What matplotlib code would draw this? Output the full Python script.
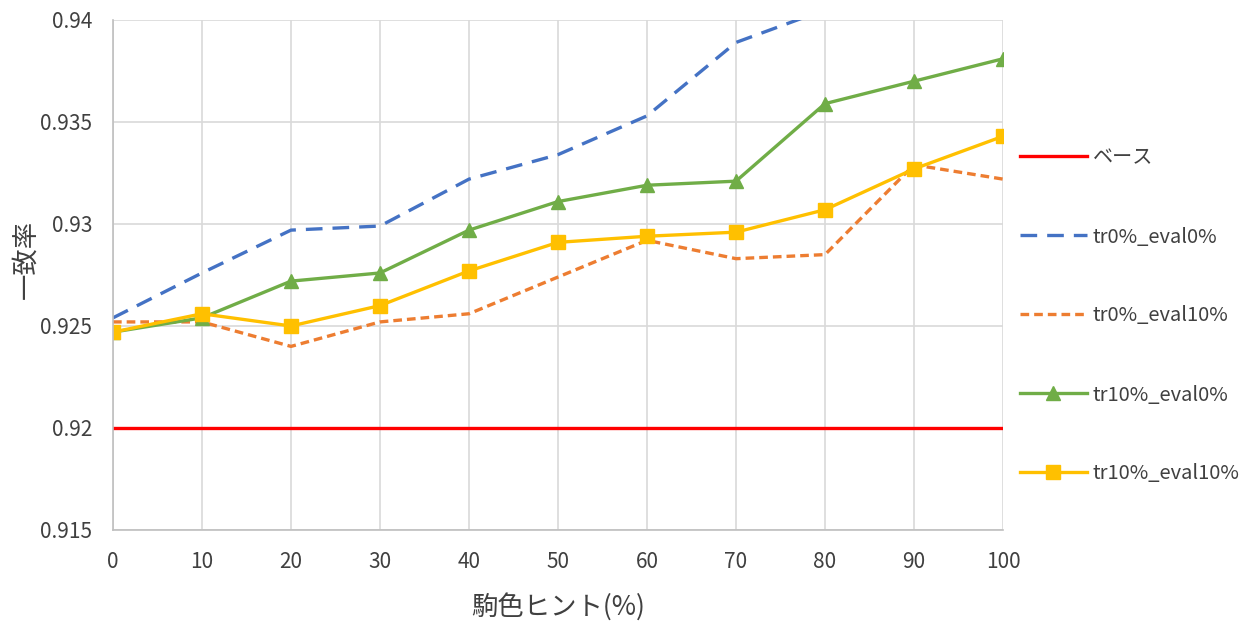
import numpy as np
import matplotlib
matplotlib.use("Agg")
import matplotlib.pyplot as plt

plt.rcParams['font.family'] = ['Noto Sans CJK JP', 'DejaVu Sans']

# ── Data ────────────────────────────────────────────────────────────────────────
hint = [0, 10, 20, 30, 40, 50, 60, 70, 80, 90, 100]
base = [0.92] * 11
tr0_eval0 = [0.9254, 0.9276, 0.9297, 0.9299, 0.9322, 0.9334, 0.9353, 0.9389, 0.9405, 0.9415, 0.9425]
tr0_eval10 = [0.9252, 0.9252, 0.9240, 0.9252, 0.9256, 0.9274, 0.9292, 0.9283, 0.9285, 0.9329, 0.9322]
tr10_eval0 = [0.9247, 0.9254, 0.9272, 0.9276, 0.9297, 0.9311, 0.9319, 0.9321, 0.9359, 0.9370, 0.9381]
tr10_eval10 = [0.9247, 0.9256, 0.9250, 0.9260, 0.9277, 0.9291, 0.9294, 0.9296, 0.9307, 0.9327, 0.9343]

labels = ["ベース", "tr0%_eval0%", "tr0%_eval10%", "tr10%_eval0%", "tr10%_eval10%"]

# ── Plot ────────────────────────────────────────────────────────────────────────
fig = plt.figure(figsize=(12.52, 6.22), dpi=100)
ax = fig.add_axes([113 / 1252, 1 - 530 / 622, 890 / 1252, 510 / 622])

lw = 2.4
ax.plot(hint, base, color="#FF0000", lw=lw, label=labels[0])
ax.plot(hint, tr0_eval0, color="#4472C4", lw=lw, dashes=(5, 3), label=labels[1])
ax.plot(hint, tr0_eval10, color="#ED7D31", lw=lw, dashes=(2.6, 1.5), label=labels[2])
ax.plot(hint, tr10_eval0, color="#70AD47", lw=lw, marker="^", markersize=10, label=labels[3])
ax.plot(hint, tr10_eval10, color="#FFC000", lw=lw, marker="s", markersize=10, label=labels[4])

ax.set_xlim(0, 100)
ax.set_ylim(0.915, 0.94)
ax.set_xticks(hint)
ax.set_yticks([0.915, 0.92, 0.925, 0.93, 0.935, 0.94])
ax.set_yticklabels(["0.915", "0.92", "0.925", "0.93", "0.935", "0.94"])
ax.tick_params(axis="both", length=0, labelsize=15, colors="#404040")
ax.tick_params(axis="x", pad=15)
ax.tick_params(axis="y", pad=15)
ax.grid(True, color="#D9D9D9", lw=1.2)
ax.set_axisbelow(True)
for side in ["top", "right"]:
    ax.spines[side].set_visible(False)
for side in ["left", "bottom"]:
    ax.spines[side].set_color("#BFBFBF")
    ax.spines[side].set_linewidth(1.2)

ax.set_xlabel("駒色ヒント(%)", fontsize=19, color="#404040", labelpad=14)
ax.set_ylabel("一致率", fontsize=19, color="#404040")
ax.yaxis.set_label_coords(-0.083, 0.53)

fig.legend(loc="center left", bbox_to_anchor=(1002 / 1252, 1 - 316 / 622),
           frameon=False, fontsize=14.5, labelspacing=2.88, handlelength=3.3,
           handletextpad=0.3, labelcolor="#404040")

plt.savefig("out.png", dpi=100)
